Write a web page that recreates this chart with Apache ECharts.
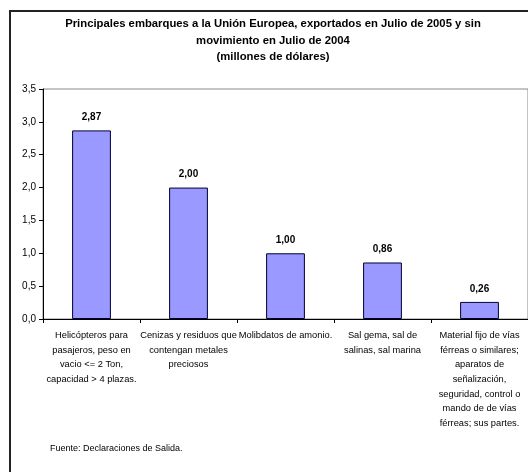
<!DOCTYPE html>
<html>
<head>
<meta charset="utf-8">
<script src="https://cdn.jsdelivr.net/npm/echarts@6/dist/echarts.min.js"></script>
<style>
  html, body { margin: 0; padding: 0; background: #fff; }
  #chart { width: 528px; height: 472px; }
</style>
</head>
<body>
<div id="chart"></div>
<script>
// categorias y valores
const categories = [
  'Helicópteros para\npasajeros, peso en\nvacio <= 2 Ton,\ncapacidad > 4 plazas.',
  'Cenizas y residuos que\ncontengan metales\npreciosos',
  'Molibdatos de amonio.',
  'Sal gema, sal de\nsalinas, sal marina',
  'Material fijo de vías\nférreas o similares;\naparatos de\nseñalización,\nseguridad, control o\nmando de de vías\nférreas; sus partes.'
];
const values = [2.87, 2.00, 1.00, 0.86, 0.26];
const titleText = 'Principales embarques a la Unión Europea, exportados en Julio de 2005 y sin\nmovimiento en Julio de 2004\n(millones de dólares)';
const sourceText = 'Fuente: Declaraciones de Salida.';

const font = '"Liberation Sans", Arial, sans-serif';
const fmt = v => v.toFixed(2).replace('.', ',');

const myChart = echarts.init(document.getElementById('chart'));
const option = {
  animation: false,
  graphic: [
    {
      type: 'rect',
      shape: { x: 10, y: 11, width: 560, height: 520 },
      style: { fill: 'none', stroke: '#222', lineWidth: 2 },
      silent: true
    },
    {
      // titulo centrado dentro del marco (el marco sigue fuera de la imagen)
      type: 'text',
      x: 273,
      y: 16,
      style: {
        text: titleText,
        align: 'center',
        font: 'bold 11.3px ' + font,
        lineHeight: 16.5,
        fill: '#000'
      }
    },
    {
      type: 'text',
      left: 50,
      top: 444,
      style: {
        text: sourceText,
        font: '9px ' + font,
        fill: '#000'
      }
    }
  ],
  grid: {
    left: 43,
    right: -3,
    top: 89,
    bottom: 153,
    show: true,
    borderColor: '#888',
    borderWidth: 1
  },
  xAxis: {
    type: 'category',
    data: categories,
    axisLine: { lineStyle: { color: '#000', width: 1 } },
    axisTick: { show: true, length: 4, lineStyle: { color: '#000' } },
    axisLabel: {
      interval: 0,
      margin: 9,
      fontFamily: font,
      fontSize: 9.3,
      lineHeight: 14.7,
      color: '#000'
    }
  },
  yAxis: {
    type: 'value',
    min: 0,
    max: 3.5,
    interval: 0.5,
    axisLine: { show: true, lineStyle: { color: '#000', width: 1 } },
    axisTick: { show: true, length: 4, lineStyle: { color: '#000' } },
    splitLine: { show: false },
    axisLabel: {
      margin: 7,
      fontFamily: font,
      fontSize: 10,
      color: '#000',
      formatter: v => v.toFixed(1).replace('.', ',')
    }
  },
  series: [
    {
      type: 'bar',
      data: values,
      barWidth: '40%',
      itemStyle: {
        color: '#9999ff',
        borderColor: '#000033',
        borderWidth: 1
      },
      label: {
        show: true,
        position: 'top',
        distance: 8,
        fontFamily: font,
        fontSize: 10,
        fontWeight: 'bold',
        color: '#000',
        formatter: p => fmt(p.value)
      }
    }
  ]
};
myChart.setOption(option);
</script>
</body>
</html>
